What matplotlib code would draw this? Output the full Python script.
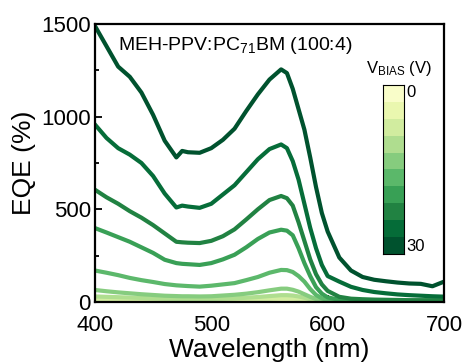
import matplotlib
matplotlib.use("Agg")
import matplotlib.pyplot as plt
from matplotlib.ticker import MultipleLocator
import numpy as np

plt.rcParams['font.family'] = ['Liberation Sans', 'DejaVu Sans']
plt.rcParams['mathtext.fontset'] = 'custom'
plt.rcParams['mathtext.rm'] = 'Liberation Sans'
plt.rcParams['mathtext.default'] = 'regular'

# wavelength grid (nm)
wl = [400, 410, 420, 430, 440, 450, 460, 470, 475, 480, 490, 500, 510, 520, 530,
      540, 550, 560, 565, 570, 575, 580, 585, 590, 595, 600, 610, 620, 630, 640,
      650, 660, 670, 680, 690, 700]

# EQE (%) for each bias, 0 V -> 30 V
eqe_0 = [2, 2, 2, 2, 1, 1, 1, 1, 1, 1, 1, 1, 1, 2, 2, 2, 3, 3, 3, 3, 2, 2, 1, 1, 0, 0,
         0, 0, 0, 0, 0, 0, 0, 0, 0, 0]
eqe_3 = [7, 7, 6, 6, 5, 5, 5, 4, 4, 4, 4, 4, 5, 5, 6, 7, 8, 10, 10, 9, 8, 6, 4, 2, 1, 1,
         0, 0, 0, 0, 0, 0, 0, 0, 0, 0]
eqe_7 = [15, 14, 13, 12, 11, 10, 9, 8, 8, 8, 8, 8, 9, 10, 12, 14, 17, 20, 20, 19, 16, 12,
         8, 5, 3, 2, 1, 1, 0, 0, 0, 0, 0, 0, 0, 0]
eqe_10 = [30, 28, 26, 24, 22, 20, 18, 17, 16, 16, 16, 16, 18, 20, 23, 27, 32, 37, 37, 35,
          30, 23, 15, 9, 5, 3, 1, 1, 1, 0, 0, 0, 0, 0, 0, 0]
eqe_13 = [65, 58, 52, 47, 42, 38, 34, 32, 31, 31, 30, 31, 35, 39, 45, 53, 63, 72, 72, 66,
          56, 42, 28, 16, 8, 4, 2, 1, 1, 1, 1, 1, 1, 1, 1, 1]
eqe_17 = [170, 158, 145, 130, 118, 108, 97, 90, 88, 86, 83, 88, 95, 102, 118, 135, 158,
          173, 172, 162, 140, 110, 70, 38, 20, 10, 5, 4, 3, 3, 3, 3, 3, 3, 3, 3]
eqe_20 = [399, 375, 350, 325, 295, 265, 228, 210, 206, 204, 200, 210, 230, 255, 295, 340,
          375, 390, 385, 360, 290, 210, 140, 80, 45, 25, 12, 8, 7, 7, 6, 6, 6, 6, 6, 6]
eqe_23 = [606, 565, 530, 490, 455, 415, 370, 325, 322, 320, 318, 330, 355, 392, 445, 500,
          550, 572, 560, 520, 430, 330, 230, 150, 95, 60, 28, 18, 15, 13, 12, 11, 10, 10,
          10, 10]
eqe_27 = [958, 885, 830, 795, 750, 680, 585, 510, 520, 515, 508, 530, 580, 630, 700, 770,
          825, 850, 830, 760, 660, 530, 400, 290, 200, 140, 110, 82, 65, 54, 47, 41, 37,
          34, 31, 29]
eqe_30 = [1490, 1380, 1270, 1215, 1130, 1010, 870, 780, 815, 808, 805, 830, 875, 935, 1030,
          1120, 1200, 1255, 1235, 1150, 1040, 930, 780, 620, 480, 380, 240, 170, 135, 120,
          112, 105, 100, 98, 85, 110]

series = [eqe_0, eqe_3, eqe_7, eqe_10, eqe_13, eqe_17, eqe_20, eqe_23, eqe_27, eqe_30]
bias_min, bias_max = 0, 30

cmap = plt.get_cmap('YlGn')
colors = [cmap(v) for v in np.linspace(0.08, 0.95, len(series))]

fig = plt.figure(figsize=(4.65, 3.63), dpi=100)
ax = fig.add_axes([0.204, 0.168, 0.751, 0.766])

for y, c in zip(series, colors):
    ax.plot(wl, y, color=c, lw=3)

ax.set_xlim(400, 700)
ax.set_ylim(0, 1500)
ax.xaxis.set_major_locator(MultipleLocator(100))
ax.xaxis.set_minor_locator(MultipleLocator(50))
ax.yaxis.set_major_locator(MultipleLocator(500))
ax.yaxis.set_minor_locator(MultipleLocator(250))
ax.tick_params(which='both', direction='in', width=1.3, labelsize=16, pad=3)
ax.tick_params(axis='x', pad=9)
ax.tick_params(which='major', length=5)
ax.tick_params(which='minor', length=3)
for s in ax.spines.values():
    s.set_linewidth(1.6)

ax.set_xlabel('Wavelength (nm)', fontsize=19, labelpad=2)
ax.set_ylabel('EQE (%)', fontsize=19, labelpad=4)

ax.text(0.066, 0.906, 'MEH-PPV:PC$_{71}$BM (100:4)', transform=ax.transAxes,
        fontsize=14, va='baseline', ha='left')

# discrete colour bar for the bias voltage (0 V at the top)
cax = fig.add_axes([383 / 465, 1 - 254 / 363, 21 / 465, 169 / 363])
cells = np.arange(len(series)).reshape(-1, 1)
cax.imshow(cells, cmap=matplotlib.colors.ListedColormap(colors), aspect='auto',
           interpolation='nearest', extent=[0, 1, 0, len(series)])
cax.set_xticks([])
cax.set_yticks([])
for s in cax.spines.values():
    s.set_linewidth(0.8)
cax.text(1.12, len(series) - 0.45, str(bias_min), fontsize=12, va='center', ha='left')
cax.text(1.12, 0.45, str(bias_max), fontsize=12, va='center', ha='left')
cax.text(0.74, 1.04, 'V$_{BIAS}$ (V)', transform=cax.transAxes, fontsize=12,
         va='bottom', ha='center')

fig.savefig('out.png', dpi=100)
